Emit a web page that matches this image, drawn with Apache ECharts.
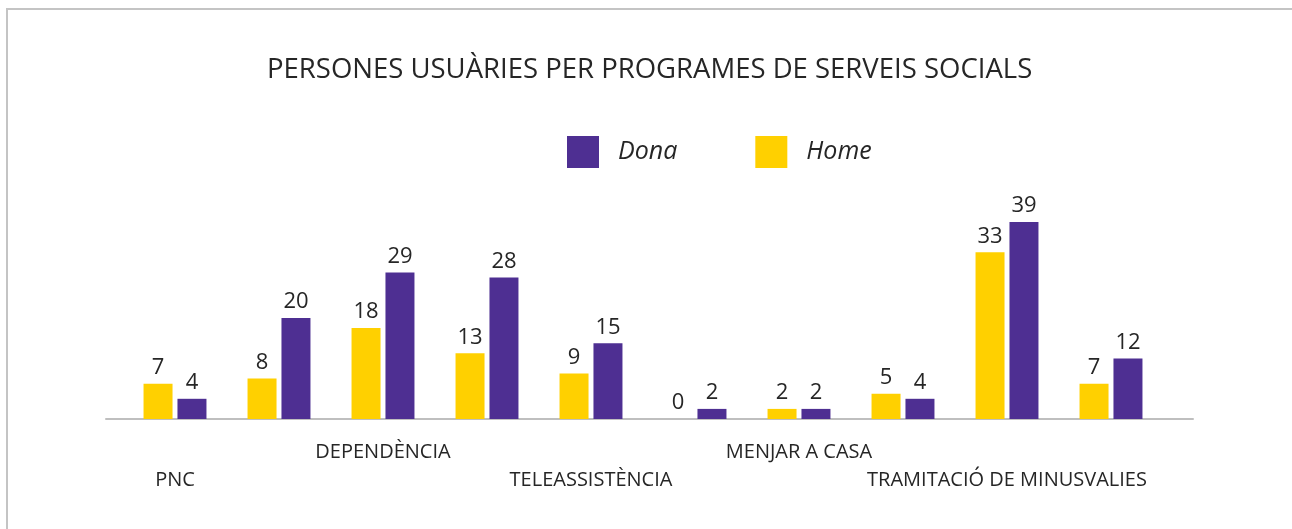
<!DOCTYPE html>
<html>
<head>
<meta charset="utf-8">
<script src="https://cdn.jsdelivr.net/npm/echarts@6/dist/echarts.min.js"></script>
<style>
  body { margin: 0; background: #fff; }
  #frame { position: absolute; left: 6px; top: 8px; width: 1300px; height: 530px;
           border-top: 2px solid #c4c4c4; border-left: 2px solid #c4c4c4; }
  #main { position: absolute; left: 0; top: 0; width: 1292px; height: 529px; }
</style>
</head>
<body>
<div id="frame"></div>
<div id="main"></div>
<script>
// programes (only every other label is shown in the original)
const categories = ['PNC', '', 'DEPENDÈNCIA', '', 'TELEASSISTÈNCIA', '', 'MENJAR A CASA', '', 'TRAMITACIÓ DE MINUSVALIES', ''];
const home = [7, 8, 18, 13, 9, 0, 2, 5, 33, 7];
const dona = [4, 20, 29, 28, 15, 2, 2, 4, 39, 12];

const FONT = 'Open Sans';
const chart = echarts.init(document.getElementById('main'));

chart.setOption({
  backgroundColor: 'transparent',
  textStyle: { fontFamily: FONT },
  title: {
    text: 'PERSONES USUÀRIES PER PROGRAMES DE SERVEIS SOCIALS',
    left: 262,
    top: 51,
    textStyle: { fontFamily: FONT, fontSize: 27.5, fontWeight: 'normal', color: '#262626' }
  },
  legend: {
    data: ['Dona', 'Home'],
    left: 562,
    top: 131,
    itemWidth: 32,
    itemHeight: 32,
    itemGap: 78,
    icon: 'rect',
    textStyle: { fontFamily: FONT, fontSize: 25, fontStyle: 'italic', color: '#262626', padding: [0, 0, 0, 14] }
  },
  grid: [
    { left: 123, right: 129, top: 217, bottom: 110 },
    { left: 106, right: 99, top: 400, bottom: 110 } // just for the long axis line
  ],
  xAxis: [
    {
      type: 'category',
      data: categories,
      axisLine: { show: false },
      axisTick: { show: false },
      axisLabel: {
        interval: 0,
        margin: 19,
        fontFamily: FONT,
        fontSize: 20,
        lineHeight: 28,
        color: '#262626',
        formatter: (v, i) => (i % 4 === 0 ? '\n' + v : v)
      }
    },
    {
      type: 'category',
      gridIndex: 1,
      data: [''],
      axisLine: { lineStyle: { color: '#bfbfbf', width: 2 } },
      axisTick: { show: false },
      axisLabel: { show: false }
    }
  ],
  yAxis: [
    { type: 'value', min: 0, max: 40, show: false, splitLine: { show: false } },
    { type: 'value', gridIndex: 1, show: false, splitLine: { show: false } }
  ],
  series: [
    {
      name: 'Home',
      type: 'bar',
      data: home,
      barWidth: 29,
      barGap: '17%',
      itemStyle: { color: '#FFD000' },
      label: { show: true, position: 'top', distance: 5, fontFamily: FONT, fontSize: 22, color: '#262626' }
    },
    {
      name: 'Dona',
      type: 'bar',
      data: dona,
      barWidth: 29,
      barGap: '17%',
      itemStyle: { color: '#4E2F92' },
      label: { show: true, position: 'top', distance: 5, fontFamily: FONT, fontSize: 22, color: '#262626' }
    }
  ]
});
</script>
</body>
</html>
